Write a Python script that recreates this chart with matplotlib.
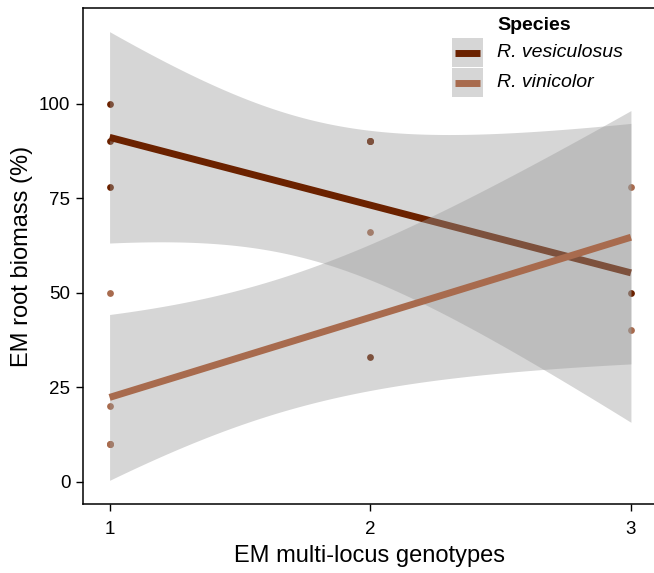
import matplotlib.pyplot as plt
import numpy as np
from matplotlib.patches import Rectangle
from matplotlib.lines import Line2D

plt.rcParams['font.family'] = ['Liberation Sans', 'DejaVu Sans']

# data (overlapping points included)
ves_x = [1, 1, 1, 2, 2, 2, 2, 3]
ves_y = [100, 90, 78, 90, 90, 90, 33, 50]
vin_x = [1, 1, 1, 1, 1, 2, 3, 3]
vin_y = [50, 20, 10, 10, 10, 66, 78, 40]

species = ['R. vesiculosus', 'R. vinicolor']
colors = ['#6B2200', '#A86B4E']
xticks = [1, 2, 3]
yticks = [0, 25, 50, 75, 100]

T_CRIT = 2.446912  # t(0.975, df=6)

W, H = 654, 573


def fit_band(x, y, grid):
    x = np.asarray(x, float)
    y = np.asarray(y, float)
    n = len(x)
    slope, icpt = np.polyfit(x, y, 1)
    resid = y - (icpt + slope * x)
    s = np.sqrt(np.sum(resid ** 2) / (n - 2))
    sxx = np.sum((x - x.mean()) ** 2)
    fit = icpt + slope * grid
    se = s * np.sqrt(1 / n + (grid - x.mean()) ** 2 / sxx)
    return fit, fit - T_CRIT * se, fit + T_CRIT * se


fig = plt.figure(figsize=(W / 100, H / 100), dpi=100)
ax = fig.add_axes((83 / W, (H - 504) / H, (657 - 83) / W, (504 - 8) / H))

# points first, ribbons sit on top of them
for xs, ys, c in zip([ves_x, vin_x], [ves_y, vin_y], colors):
    ax.scatter(xs, ys, s=24, color=c, linewidths=0, zorder=1)

grid = np.linspace(1, 3, 200)
z = 2
for xs, ys, c in zip([ves_x, vin_x], [ves_y, vin_y], colors):
    fit, lo, hi = fit_band(xs, ys, grid)
    ax.fill_between(grid, lo, hi, color='#999999', alpha=0.4, linewidth=0, zorder=z)
    ax.plot(grid, fit, color=c, linewidth=5, solid_capstyle='butt', zorder=z + 1)
    z += 2

ax.set_xlim(0.898, 3.1)
ax.set_ylim(-5.95, 125.3)
ax.set_xticks(xticks)
ax.set_yticks(yticks)
ax.tick_params(labelsize=13.5, length=5, width=1, color='black')
ax.tick_params(axis='x', pad=7)
ax.tick_params(axis='y', pad=4)
for sp in ax.spines.values():
    sp.set_linewidth(1.1)
    sp.set_color('black')

ax.set_xlabel('EM multi-locus genotypes', fontsize=17)
ax.set_ylabel('EM root biomass (%)', fontsize=17)
ax.xaxis.set_label_coords(0.5, -0.083)
ax.yaxis.set_label_coords(-0.087, 0.5)


# legend drawn by hand, pixel coords from top-left
def px(x, y):
    return x / W, 1 - y / H


fig.text(*px(497, 25), 'Species', fontsize=14, fontweight='bold', va='center', ha='left')
key_tops = [38, 68]
for i, (name, c) in enumerate(zip(species, colors)):
    top = key_tops[i]
    x0, y0 = px(452, top + 29)
    fig.patches.append(Rectangle((x0, y0), 31 / W, 29 / H, transform=fig.transFigure,
                                 facecolor='#D6D6D6', edgecolor='none'))
    lx0, ly = px(455, top + 14.5)
    lx1, _ = px(480, 0)
    fig.lines.append(Line2D([lx0, lx1], [ly, ly], transform=fig.transFigure,
                            color=c, linewidth=5, solid_capstyle='butt'))
    fig.text(*px(497, top + 14.5), name, fontsize=14, fontstyle='italic', va='center', ha='left')

fig.savefig('out.png', dpi=100)
